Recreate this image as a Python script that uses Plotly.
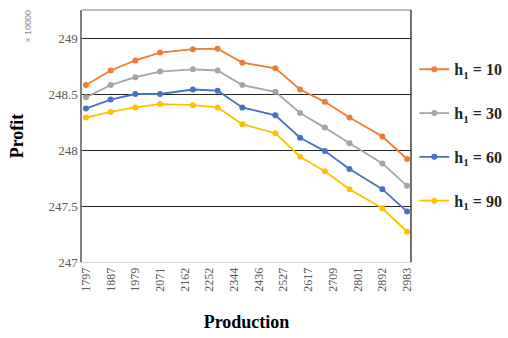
import plotly.graph_objects as go

# Production levels shown on the category axis
production = ["1797", "1887", "1979", "2071", "2162", "2252", "2344",
              "2436", "2527", "2617", "2709", "2801", "2892", "2983"]

# Position of each sampled point along the production axis (category units)
point_pos = [0, 1, 2, 3, 4.33, 5.33, 6.33, 7.67, 8.67, 9.67, 10.67, 12, 13]

# Profit (×10000) for each h1 setting
profit_h10 = [248.58, 248.71, 248.80, 248.87, 248.90, 248.905, 248.78,
              248.73, 248.54, 248.43, 248.29, 248.12, 247.92]
profit_h30 = [248.47, 248.58, 248.65, 248.70, 248.72, 248.71, 248.58,
              248.52, 248.33, 248.20, 248.06, 247.88, 247.68]
profit_h60 = [248.37, 248.45, 248.50, 248.50, 248.54, 248.53, 248.38,
              248.31, 248.11, 247.99, 247.83, 247.65, 247.45]
profit_h90 = [248.29, 248.34, 248.38, 248.41, 248.40, 248.38, 248.23,
              248.15, 247.94, 247.81, 247.65, 247.48, 247.27]

series = [
    ("<b>h<sub>1</sub> = 10</b>", profit_h10, "#ED7D31"),
    ("<b>h<sub>1</sub> = 30</b>", profit_h30, "#A5A5A5"),
    ("<b>h<sub>1</sub> = 60</b>", profit_h60, "#4472C4"),
    ("<b>h<sub>1</sub> = 90</b>", profit_h90, "#FFC000"),
]

serif = "Liberation Serif, Times New Roman, serif"

fig = go.Figure()
for i, (name, vals, color) in enumerate(series):
    fig.add_trace(go.Scatter(
        x=point_pos, y=vals, name=name, mode="lines+markers",
        legendgroup=f"g{i}",
        line=dict(color=color, width=1.8),
        marker=dict(color=color, size=6),
    ))

fig.update_layout(
    width=508, height=338,
    margin=dict(l=82, r=97, t=10, b=76, autoexpand=False),
    plot_bgcolor="white", paper_bgcolor="white",
    font=dict(family=serif, color="#404040"),
    showlegend=True,
    legend=dict(
        x=1.01, y=0.832, xanchor="left", yanchor="top",
        font=dict(family=serif, size=16, color="#262626"),
        tracegroupgap=20, itemwidth=30,
        bgcolor="rgba(0,0,0,0)",
    ),
    xaxis=dict(
        range=[-0.16, 13.16],
        tickmode="array",
        tickvals=list(range(len(production))),
        ticktext=production,
        tickangle=-90,
        tickfont=dict(family=serif, size=12, color="#595959"),
        showgrid=False, zeroline=False,
        showline=True, linecolor="#D9D9D9", linewidth=1,
        mirror=False, ticks="",
        title=dict(text="<b>Production</b>",
                   font=dict(family=serif, size=18, color="black"),
                   standoff=24),
    ),
    yaxis=dict(
        range=[247, 249.25],
        tickmode="array",
        tickvals=[247, 247.5, 248, 248.5, 249],
        ticktext=["247", "247.5", "248", "248.5", "249"],
        tickfont=dict(family=serif, size=13, color="#595959"),
        showgrid=True, gridcolor="#262626", gridwidth=1,
        zeroline=False,
        showline=True, linecolor="#7F7F7F", linewidth=1.5,
        ticks="", ticklen=0,
        title=dict(text="<b>Profit</b>",
                   font=dict(family=serif, size=18, color="black"),
                   standoff=20),
    ),
    shapes=[
        dict(type="line", xref="paper", yref="paper", x0=0, x1=1, y0=1, y1=1,
             line=dict(color="#A6A6A6", width=1.5)),
        dict(type="line", xref="paper", yref="paper", x0=1, x1=1, y0=0, y1=1,
             line=dict(color="#404040", width=1.5)),
    ],
    annotations=[
        dict(text="× 10000", xref="paper", yref="paper",
             x=-0.165, y=1.01, xanchor="center", yanchor="top",
             showarrow=False, textangle=-90,
             font=dict(family="Liberation Sans, Arial, sans-serif", size=9, color="#8C8C8C")),
    ],
)

fig.write_html("out.html")
